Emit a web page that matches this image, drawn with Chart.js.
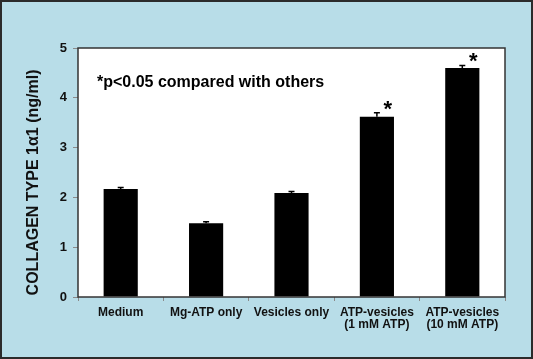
<!DOCTYPE html>
<html>
<head>
<meta charset="utf-8">
<script src="https://cdn.jsdelivr.net/npm/chart.js@4/dist/chart.umd.min.js"></script>
<style>
  html, body { margin: 0; padding: 0; background: #b8dde8; }
  #wrap { width: 533px; height: 359px; }
</style>
</head>
<body>
<div id="wrap"><canvas id="grafico"></canvas></div>
<script>
// categorias e valores
var categorias = [["Medium"], ["Mg-ATP only"], ["Vesicles only"], ["ATP-vesicles", "(1 mM ATP)"], ["ATP-vesicles", "(10 mM ATP)"]];
var valores = [2.17, 1.48, 2.09, 3.62, 4.60];
var erros = [0.03, 0.03, 0.03, 0.08, 0.05];
var significativo = [false, false, false, true, true];
var ticksY = [0, 1, 2, 3, 4, 5];
var tituloY = "COLLAGEN TYPE 1α1 (ng/ml)";
var nota = "*p<0.05 compared with others";

// fundo, borda da área do gráfico, barras de erro, asteriscos e textos
var pluginDesenho = {
  id: "desenho",
  beforeDraw: function (chart) {
    var ctx = chart.ctx;
    var a = chart.chartArea;
    ctx.save();
    ctx.fillStyle = "#b8dde8";
    ctx.fillRect(0, 0, chart.width, chart.height);
    ctx.strokeStyle = "#2b2b2b";
    ctx.lineWidth = 2;
    ctx.strokeRect(1, 1, chart.width - 2, chart.height - 2);
    ctx.fillStyle = "#ffffff";
    ctx.fillRect(a.left, a.top, a.right - a.left, a.bottom - a.top);
    ctx.restore();
  },
  afterDatasetsDraw: function (chart) {
    var ctx = chart.ctx;
    var a = chart.chartArea;
    var x = chart.scales.x;
    var y = chart.scales.y;
    ctx.save();
    ctx.strokeStyle = "#333333";
    ctx.lineWidth = 1.5;
    ctx.strokeRect(a.left, a.top, a.right - a.left, a.bottom - a.top);

    ctx.strokeStyle = "#000000";
    ctx.lineWidth = 1.5;
    for (var i = 0; i < valores.length; i++) {
      var cx = x.getPixelForValue(i);
      var yTopo = y.getPixelForValue(valores[i] + erros[i]);
      var yBar = y.getPixelForValue(valores[i]);
      ctx.beginPath();
      ctx.moveTo(cx, yBar);
      ctx.lineTo(cx, yTopo);
      ctx.moveTo(cx - 3, yTopo);
      ctx.lineTo(cx + 3, yTopo);
      ctx.stroke();
    }

    ctx.fillStyle = "#000000";
    ctx.font = "bold 22px Arial, 'Liberation Sans', sans-serif";
    ctx.textAlign = "center";
    ctx.textBaseline = "middle";
    for (var j = 0; j < valores.length; j++) {
      if (significativo[j]) {
        ctx.fillText("*", x.getPixelForValue(j) + 11, y.getPixelForValue(valores[j] + erros[j]) - 3);
      }
    }

    ctx.font = "bold 16px Arial, 'Liberation Sans', sans-serif";
    ctx.textAlign = "left";
    ctx.fillText(nota, a.left + 19, y.getPixelForValue(4.3));

    // título do eixo y
    ctx.translate(34, y.getPixelForValue(2.3));
    ctx.rotate(-Math.PI / 2);
    ctx.textAlign = "center";
    ctx.fillStyle = "#111111";
    ctx.font = "bold 16px Arial, 'Liberation Sans', sans-serif";
    ctx.fillText(tituloY, 0, 0);
    ctx.restore();
  }
};

var ctx = document.getElementById("grafico").getContext("2d");

new Chart(ctx, {
  type: "bar",
  data: {
    labels: categorias,
    datasets: [
      {
        label: "Collagen",
        backgroundColor: "#000000",
        data: valores,
        barPercentage: 0.8,
        categoryPercentage: 0.5,
      },
    ],
  },
  options: {
    responsive: true,
    maintainAspectRatio: false,
    animation: false,
    layout: {
      padding: { left: 0, right: 28, top: 48, bottom: 0 },
    },
    plugins: {
      legend: { display: false },
      tooltip: { enabled: false },
    },
    scales: {
      x: {
        afterFit: function (s) { s.height = 62; },
        border: { display: false },
        grid: {
          drawOnChartArea: false,
          drawTicks: true,
          tickLength: 4,
          color: "#8a8a8a",
          offset: true,
        },
        ticks: {
          color: "#111111",
          padding: 5,
          maxRotation: 0,
          autoSkip: false,
          font: { family: "Arial, 'Liberation Sans', sans-serif", size: 12, weight: "bold", lineHeight: 1.05 },
        },
      },
      y: {
        min: 0,
        max: 5,
        afterFit: function (s) { s.width = 78; },
        afterBuildTicks: function (s) {
          s.ticks = ticksY.map(function (v) { return { value: v }; });
        },
        border: { display: false },
        grid: {
          drawOnChartArea: false,
          drawTicks: true,
          tickLength: 5,
          color: "#8a8a8a",
        },
        ticks: {
          color: "#111111",
          padding: 6,
          font: { family: "Arial, 'Liberation Sans', sans-serif", size: 13, weight: "bold" },
        },
      },
    },
  },
  plugins: [pluginDesenho],
});
</script>
</body>
</html>
